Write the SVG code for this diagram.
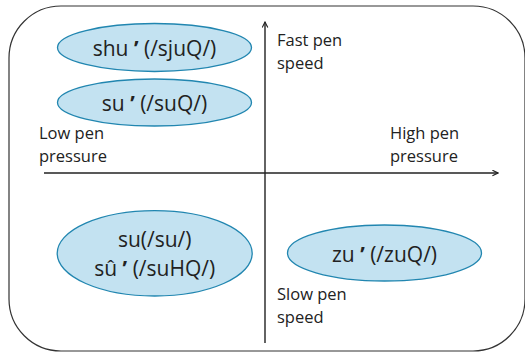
<svg xmlns="http://www.w3.org/2000/svg" width="525" height="353" viewBox="0 0 525 353">
<defs>
<style>
.frame{fill:#fff;stroke:#333;stroke-width:1.2}
.node ellipse{fill:#c3e2f1;stroke:#2186b0;stroke-width:1.3}
text{font-family:"Open Sans","Noto Sans","DejaVu Sans",sans-serif;fill:#222}
.nt{font-size:21px;text-anchor:middle}
.ap{font-weight:bold}
.lb{font-size:16.5px}
.axis{stroke:#222;stroke-width:1.4;fill:none}
</style>
<marker id="arr" viewBox="0 0 10 10" refX="9" refY="5" markerWidth="7" markerHeight="7" orient="auto" markerUnits="userSpaceOnUse">
<path d="M1,1 L9,5 L1,9" fill="none" stroke="#222" stroke-width="1.6"/>
</marker>
</defs>
<rect class="frame" x="9" y="6" width="516" height="345" rx="52" ry="52"/>
<g id="connectors">
<line class="axis" x1="265" y1="343" x2="265" y2="22" marker-end="url(#arr)"/>
<line class="axis" x1="44" y1="173" x2="498" y2="173" marker-end="url(#arr)"/>
</g>
<g id="node-shu" class="node">
<ellipse cx="154.5" cy="47.5" rx="97" ry="24"/>
<text class="nt" x="154.5" y="56">shu <tspan class="ap">’</tspan> (/sjuQ/)</text>
</g>
<g id="node-su1" class="node">
<ellipse cx="154.5" cy="102.5" rx="97" ry="23.5"/>
<text class="nt" x="154.5" y="111">su <tspan class="ap">’</tspan> (/suQ/)</text>
</g>
<g id="node-su2" class="node">
<ellipse cx="154.7" cy="253.3" rx="97.5" ry="42.7"/>
<text class="nt" x="154.7" y="247">su(/su/)</text>
<text class="nt" x="154.7" y="276">sû <tspan class="ap">’</tspan> (/suHQ/)</text>
</g>
<g id="node-zu" class="node">
<ellipse cx="384.5" cy="253" rx="97" ry="28"/>
<text class="nt" x="384.5" y="262">zu <tspan class="ap">’</tspan> (/zuQ/)</text>
</g>
<g id="labels">
<text class="lb" x="39" y="139">Low pen</text>
<text class="lb" x="39" y="162">pressure</text>
<text class="lb" x="277" y="46">Fast pen</text>
<text class="lb" x="277" y="69">speed</text>
<text class="lb" x="390" y="139">High pen</text>
<text class="lb" x="390" y="162">pressure</text>
<text class="lb" x="277" y="300">Slow pen</text>
<text class="lb" x="277" y="323">speed</text>
</g>
</svg>
